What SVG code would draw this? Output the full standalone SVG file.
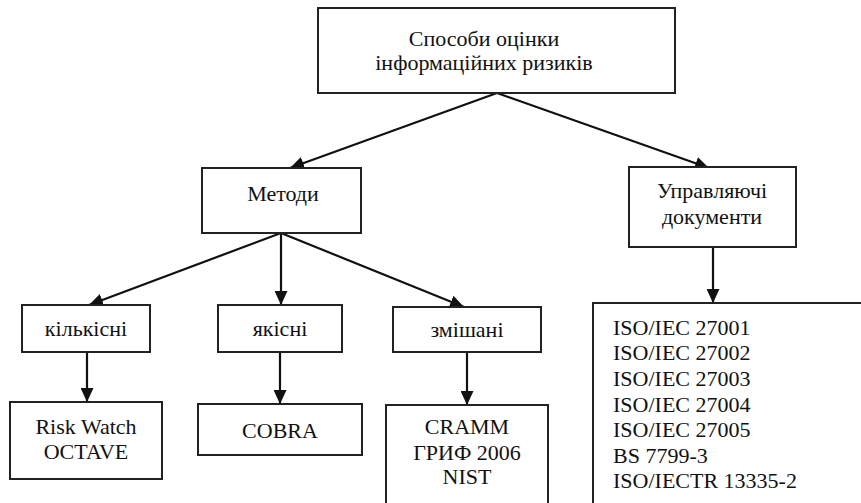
<svg xmlns="http://www.w3.org/2000/svg" width="861" height="503" viewBox="0 0 861 503">
<style>
.box{fill:#fff;stroke:#222;stroke-width:2}
.t{font-family:"Liberation Serif","Times New Roman",serif;font-size:22px;fill:#111;text-anchor:middle}
.tl{font-family:"Liberation Serif","Times New Roman",serif;font-size:22px;fill:#111}
.c{stroke:#111;stroke-width:2.2;fill:none;marker-end:url(#ah)}
</style>
<defs>
<marker id="ah" viewBox="0 0 14 13" refX="14" refY="6.5" markerWidth="14" markerHeight="13" markerUnits="userSpaceOnUse" orient="auto">
<path d="M0,0 L14,6.5 L0,13 Z" fill="#111"/>
</marker>
</defs>
<rect width="861" height="503" fill="#fff"/>
<g id="connectors">
<line class="c" x1="497" y1="93" x2="290" y2="168"/>
<line class="c" x1="497" y1="93" x2="709" y2="168"/>
<line class="c" x1="281" y1="233" x2="89" y2="305"/>
<line class="c" x1="281" y1="233" x2="281" y2="305"/>
<line class="c" x1="281" y1="233" x2="464" y2="307"/>
<line class="c" x1="87" y1="352" x2="87" y2="402"/>
<line class="c" x1="280" y1="352" x2="280" y2="404"/>
<line class="c" x1="467" y1="352" x2="467" y2="405"/>
<line class="c" x1="713" y1="247" x2="713" y2="303"/>
</g>
<g id="root">
<rect class="box" x="318" y="8" width="357" height="85"/>
<text class="t" x="484" y="46">Способи оцінки</text>
<text class="t" x="484" y="70">інформаційних ризиків</text>
</g>
<g id="methods">
<rect class="box" x="202" y="168" width="159" height="65"/>
<text class="t" x="283" y="201">Методи</text>
</g>
<g id="docs">
<rect class="box" x="629" y="167" width="167" height="80"/>
<text class="t" x="712" y="198">Управляючі</text>
<text class="t" x="712" y="224">документи</text>
</g>
<g id="quant">
<rect class="box" x="22" y="305" width="128" height="47"/>
<text class="t" x="86" y="336">кількісні</text>
</g>
<g id="qual">
<rect class="box" x="218" y="305" width="124" height="47"/>
<text class="t" x="280" y="336">якісні</text>
</g>
<g id="mixed">
<rect class="box" x="393" y="307" width="148" height="45"/>
<text class="t" x="467" y="337">змішані</text>
</g>
<g id="quant-list">
<rect class="box" x="10" y="402" width="152" height="77"/>
<text class="t" x="86" y="434">Risk Watch</text>
<text class="t" x="86" y="459">OCTAVE</text>
</g>
<g id="qual-list">
<rect class="box" x="198" y="404" width="164" height="51"/>
<text class="t" x="280" y="438">COBRA</text>
</g>
<g id="mixed-list">
<rect class="box" x="386" y="405" width="162" height="110"/>
<text class="t" x="467" y="434">CRAMM</text>
<text class="t" x="467" y="460">ГРИФ 2006</text>
<text class="t" x="467" y="484">NIST</text>
</g>
<g id="docs-list">
<rect class="box" x="593" y="303" width="280" height="215"/>
<text class="tl" x="613" y="335">ISO/IEC 27001</text>
<text class="tl" x="613" y="360">ISO/IEC 27002</text>
<text class="tl" x="613" y="386">ISO/IEC 27003</text>
<text class="tl" x="613" y="412">ISO/IEC 27004</text>
<text class="tl" x="613" y="437">ISO/IEC 27005</text>
<text class="tl" x="613" y="463">BS 7799-3</text>
<text class="tl" x="613" y="488">ISO/IECTR 13335-2</text>
</g>
</svg>
